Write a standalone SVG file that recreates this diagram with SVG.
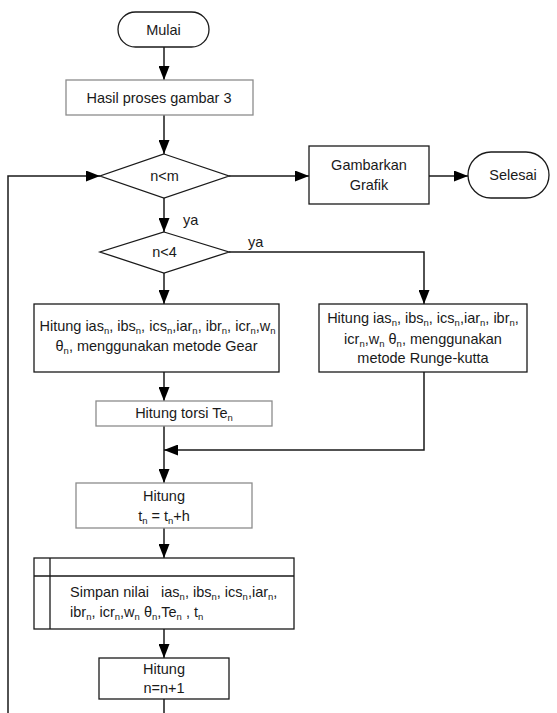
<svg xmlns="http://www.w3.org/2000/svg" width="557" height="713" viewBox="0 0 557 713">
<style>
text{font-family:"Liberation Sans",Arial,sans-serif;font-size:14.5px;fill:#1a1a1a}
.m{text-anchor:middle}
.s{font-size:9.5px}
.b{fill:#fff;stroke:#1a1a1a;stroke-width:1.3}
.g{fill:#fff;stroke:#8c8c8c;stroke-width:1.3}
.c{fill:none;stroke:#1a1a1a;stroke-width:1.5}
</style>
<defs>
<marker id="ah" viewBox="0 0 14 11" refX="14" refY="5.5" markerWidth="14" markerHeight="11" markerUnits="userSpaceOnUse" orient="auto"><path d="M0,0 L14,5.5 L0,11z" fill="#000"/></marker>
</defs>
<rect width="557" height="713" fill="#fff"/>
<g id="connectors">
<path class="c" d="M164,47 V80" marker-end="url(#ah)"/>
<path class="c" d="M164,115 V154" marker-end="url(#ah)"/>
<path class="c" d="M229,176 H309" marker-end="url(#ah)"/>
<path class="c" d="M429,176 H468" marker-end="url(#ah)"/>
<path class="c" d="M164,197 V232" marker-end="url(#ah)"/>
<path class="c" d="M229,252 H424 V304" marker-end="url(#ah)"/>
<path class="c" d="M164,273 V304" marker-end="url(#ah)"/>
<path class="c" d="M164,372 V401" marker-end="url(#ah)"/>
<path class="c" d="M164,426 V483" marker-end="url(#ah)"/>
<path class="c" d="M424,372 V450 H164" marker-end="url(#ah)"/>
<path class="c" d="M164,528 V558" marker-end="url(#ah)"/>
<path class="c" d="M164,629 V658" marker-end="url(#ah)"/>
<path class="c" d="M164,699 V713"/>
<path class="c" d="M8,713 V176 H100" marker-end="url(#ah)"/>
<text x="183" y="225">ya</text>
<text x="248" y="247">ya</text>
</g>
<g id="mulai">
<rect class="b" x="118" y="12" width="91" height="35" rx="17.5"/>
<text class="m" x="163.5" y="34.5">Mulai</text>
</g>
<g id="hasil">
<rect class="g" x="66" y="80" width="187" height="35"/>
<text class="m" x="159" y="102.5">Hasil proses gambar 3</text>
</g>
<g id="nm">
<polygon class="b" points="164,154 229,176 164,198 100,176"/>
<text class="m" x="164.5" y="181">n&lt;m</text>
</g>
<g id="gambarkan">
<rect class="b" x="309" y="146" width="120" height="58"/>
<text class="m" x="369" y="170">Gambarkan</text>
<text class="m" x="369" y="190">Grafik</text>
</g>
<g id="selesai">
<rect class="b" x="468" y="152" width="81" height="46" rx="23"/>
<text class="m" x="513" y="180">Selesai</text>
</g>
<g id="n4">
<polygon class="b" points="164,232 229,252 164,273 100,252"/>
<text class="m" x="164.5" y="257">n&lt;4</text>
</g>
<g id="gear">
<rect class="b" x="34" y="304" width="245" height="68"/>
<text class="m" x="157.5" y="331">Hitung ias<tspan class="s" dy="3">n</tspan><tspan dy="-3">, ibs</tspan><tspan class="s" dy="3">n</tspan><tspan dy="-3">, ics</tspan><tspan class="s" dy="3">n</tspan><tspan dy="-3">,iar</tspan><tspan class="s" dy="3">n</tspan><tspan dy="-3">, ibr</tspan><tspan class="s" dy="3">n</tspan><tspan dy="-3">, icr</tspan><tspan class="s" dy="3">n</tspan><tspan dy="-3">,w</tspan><tspan class="s" dy="3">n</tspan></text>
<text class="m" x="156.5" y="351">θ<tspan class="s" dy="3">n</tspan><tspan dy="-3">, menggunakan metode Gear</tspan></text>
</g>
<g id="runge">
<rect class="b" x="319" y="304" width="208" height="68"/>
<text class="m" x="423" y="323">Hitung ias<tspan class="s" dy="3">n</tspan><tspan dy="-3">, ibs</tspan><tspan class="s" dy="3">n</tspan><tspan dy="-3">, ics</tspan><tspan class="s" dy="3">n</tspan><tspan dy="-3">,iar</tspan><tspan class="s" dy="3">n</tspan><tspan dy="-3">, ibr</tspan><tspan class="s" dy="3">n</tspan><tspan dy="-3">,</tspan></text>
<text class="m" x="423" y="344">icr<tspan class="s" dy="3">n</tspan><tspan dy="-3">,w</tspan><tspan class="s" dy="3">n</tspan><tspan dy="-3"> θ</tspan><tspan class="s" dy="3">n</tspan><tspan dy="-3">, menggunakan</tspan></text>
<text class="m" x="423" y="363">metode Runge-kutta</text>
</g>
<g id="torsi">
<rect class="g" x="96" y="401" width="176" height="25"/>
<text class="m" x="184" y="418">Hitung torsi Te<tspan class="s" dy="3">n</tspan></text>
</g>
<g id="hitungt">
<rect class="g" x="76" y="483" width="176" height="45"/>
<text class="m" x="164" y="501">Hitung</text>
<text class="m" x="164" y="521">t<tspan class="s" dy="3">n</tspan><tspan dy="-3"> = t</tspan><tspan class="s" dy="3">n</tspan><tspan dy="-3">+h</tspan></text>
</g>
<g id="simpan">
<rect class="b" x="34" y="558" width="260" height="71"/>
<path class="b" d="M50,558 V629 M34,576 H294"/>
<text x="70" y="597" xml:space="preserve">Simpan nilai   ias<tspan class="s" dy="3">n</tspan><tspan dy="-3">, ibs</tspan><tspan class="s" dy="3">n</tspan><tspan dy="-3">, ics</tspan><tspan class="s" dy="3">n</tspan><tspan dy="-3">,iar</tspan><tspan class="s" dy="3">n</tspan><tspan dy="-3">,</tspan></text>
<text x="70" y="617" xml:space="preserve">ibr<tspan class="s" dy="3">n</tspan><tspan dy="-3">, icr</tspan><tspan class="s" dy="3">n</tspan><tspan dy="-3">,w</tspan><tspan class="s" dy="3">n</tspan><tspan dy="-3"> θ</tspan><tspan class="s" dy="3">n</tspan><tspan dy="-3">,Te</tspan><tspan class="s" dy="3">n</tspan><tspan dy="-3"> , t</tspan><tspan class="s" dy="3">n</tspan></text>
</g>
<g id="hitungn">
<rect class="b" x="99" y="658" width="130" height="41"/>
<text class="m" x="164" y="674">Hitung</text>
<text class="m" x="164" y="693">n=n+1</text>
</g>
</svg>
